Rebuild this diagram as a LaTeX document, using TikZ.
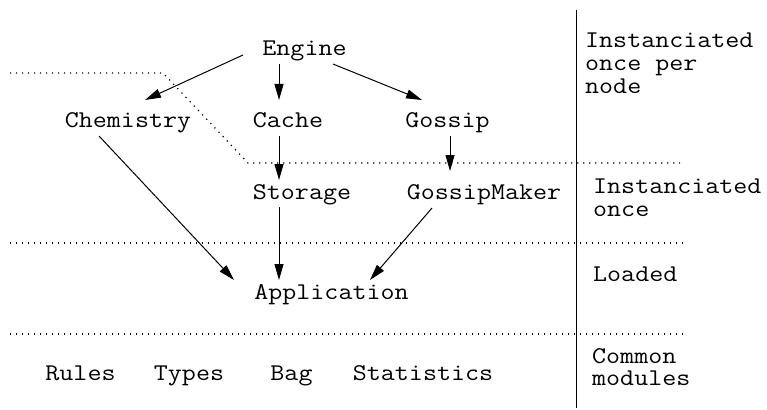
\documentclass[tikz,border=0pt]{standalone}
\usepackage{fontspec}
\setmonofont{Latin Modern Mono}[FakeStretch=1.134]
\usetikzlibrary{arrows.meta}

\begin{document}
\begin{tikzpicture}[x=1pt,y=-1pt,
  every node/.style={font=\fontsize{24}{22.8}\selectfont\ttfamily, inner sep=0pt},
  module/.style={anchor=base},
  layer/.style={anchor=north west, align=left},
  dep/.style={line width=1pt, -{Triangle[length=16pt,width=9pt]}},
  border/.style={line width=1.2pt, dash pattern=on 1.2pt off 4.8pt},
  rule/.style={line width=1pt}]
\useasboundingbox (0,0) rectangle (767,409);

% modules
\node[module] (engine)  at (304.5,56) {Engine};
\node[module] (chem)    at (128,128)  {Chemistry};
\node[module] (cache)   at (288,128)  {Cache};
\node[module] (gossip)  at (447.5,128){Gossip};
\node[module] (storage) at (302,199)  {Storage};
\node[module] (maker)   at (484,199)  {GossipMaker};
\node[module] (app)     at (331.5,299){Application};
\node[module] (rules)   at (80.5,380) {Rules};
\node[module] (types)   at (189,380)  {Types};
\node[module] (bag)     at (291.5,380){Bag};
\node[module] (stats)   at (423,380)  {Statistics};

% layer captions
\node[layer] (l1) at (585,33)  {Instanciated\\once per\\node};
\node[layer] (l2) at (593,179) {Instanciated\\once};
\node[layer] (l3) at (593,267) {Loaded};
\node[layer] (l4) at (592,348) {Common\\modules};

% layer separators
\draw[rule] (576,10) -- (576,408);
\draw[border] (10,73) -- (163,73) -- (248,163) -- (680,163);
\draw[border] (10,243) -- (683,243);
\draw[border] (10,334) -- (683,334);

% dependencies
\draw[dep] ([xshift=-61.5pt,yshift=1pt]engine.base) -- ([xshift=17pt,yshift=28pt]chem.base);
\draw[dep] ([xshift=-25.5pt,yshift=-8pt]engine.base) -- ([xshift=-9pt,yshift=28pt]cache.base);
\draw[dep] ([xshift=28.5pt,yshift=-8pt]engine.base) -- ([xshift=-25.5pt,yshift=28pt]gossip.base);
\draw[dep] ([xshift=-9pt,yshift=-8pt]cache.base) -- ([xshift=-23pt,yshift=19pt]storage.base);
\draw[dep] ([xshift=2.5pt,yshift=-8pt]gossip.base) -- ([xshift=-34pt,yshift=28pt]maker.base);
\draw[dep] ([xshift=-29pt,yshift=-8pt]chem.base) -- ([xshift=-97.5pt,yshift=19pt]app.base);
\draw[dep] ([xshift=-23pt,yshift=-8pt]storage.base) -- ([xshift=-52.5pt,yshift=19pt]app.base);
\draw[dep] ([xshift=-52pt,yshift=-9pt]maker.base) -- ([xshift=38.5pt,yshift=19pt]app.base);
\end{tikzpicture}
\end{document}
